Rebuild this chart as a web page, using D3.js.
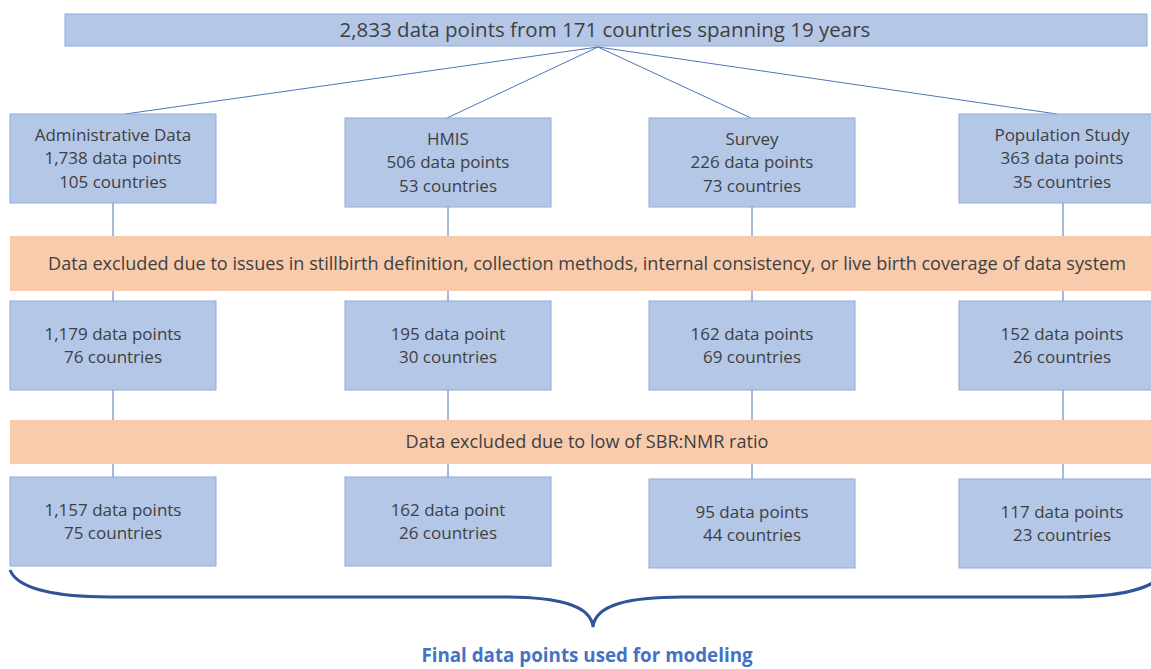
<!DOCTYPE html>
<html lang="en">
<head>
    <meta charset="UTF-8">
    <title>Stillbirth data flow</title>
    <style>
        body { margin: 0; background: #fff; font-family: 'Open Sans', 'Lato', sans-serif; }
        .box { fill: #b4c7e7; stroke: #8faadc; stroke-width: 1px; }
        .band { fill: #f8cbad; }
        .link { stroke: #4f74b8; stroke-width: 1px; fill: none; }
        .label { fill: #404040; font-size: 17px; text-anchor: middle; }
        .brace { fill: none; stroke: #2f5597; stroke-width: 3px; }
        .final { fill: #4472c4; font-size: 18.8px; font-weight: bold; text-anchor: middle; }
    </style>
</head>
<body>
    <svg id="flow"></svg>
    <script src="https://d3js.org/d3.v7.min.js"></script>
    <script>
        // Data
        const title = '2,833 data points from 171 countries spanning 19 years';
        const sources = ['Administrative Data', 'HMIS', 'Survey', 'Population Study'];
        const initialPoints = ['1,738 data points', '506 data points', '226 data points', '363 data points'];
        const initialCountries = ['105 countries', '53 countries', '73 countries', '35 countries'];
        const afterQualityPoints = ['1,179 data points', '195 data point', '162 data points', '152 data points'];
        const afterQualityCountries = ['76 countries', '30 countries', '69 countries', '26 countries'];
        const finalPoints = ['1,157 data points', '162 data point', '95 data points', '117 data points'];
        const finalCountries = ['75 countries', '26 countries', '44 countries', '23 countries'];
        const exclusions = [
            'Data excluded due to issues in stillbirth definition, collection methods, internal consistency, or live birth coverage of data system',
            'Data excluded due to low of SBR:NMR ratio'
        ];
        const footer = 'Final data points used for modeling';

        const width = 1151, height = 669;
        const boxW = 206, boxH = 89;

        const svg = d3.select('#flow')
            .attr('width', width)
            .attr('height', height)
            .style('display', 'block');

        // column layout (boxes are not evenly spaced in the original)
        const colX = d3.scaleOrdinal().domain(sources).range([10, 345, 649, 959]);
        const cx = d => colX(d) + boxW / 2;

        // row tops, slightly staggered per column as in the original
        const rowTop = [
            d3.scaleOrdinal().domain(sources).range([114, 118, 118, 114]),
            d3.scaleOrdinal().domain(sources).range([301, 301, 301, 301]),
            d3.scaleOrdinal().domain(sources).range([477, 477, 479, 479])
        ];

        const rows = [
            sources.map((s, i) => ({ key: s, lines: [s, initialPoints[i], initialCountries[i]] })),
            sources.map((s, i) => ({ key: s, lines: [afterQualityPoints[i], afterQualityCountries[i]] })),
            sources.map((s, i) => ({ key: s, lines: [finalPoints[i], finalCountries[i]] }))
        ];

        // Top box
        const headBox = { x: 65, y: 14, w: 1082, h: 32 };
        svg.append('rect').attr('class', 'box')
            .attr('x', headBox.x).attr('y', headBox.y).attr('width', headBox.w).attr('height', headBox.h);
        svg.append('text').attr('class', 'label')
            .attr('x', headBox.x + headBox.w / 2 - 1).attr('y', headBox.y + headBox.h / 2)
            .attr('dy', '0.35em').style('font-size', '20.5px')
            .text(title);

        // fan-out lines from the top box
        const hub = [598, 47];
        const fanEnd = d3.scaleOrdinal().domain(sources).range([125, 447, 751, 1057]);
        svg.selectAll('.fan')
            .data(sources)
            .enter()
            .append('line')
            .attr('class', 'link')
            .attr('x1', hub[0]).attr('y1', hub[1])
            .attr('x2', d => fanEnd(d))
            .attr('y2', d => rowTop[0](d));

        // vertical connectors (drawn under the bands)
        [[0, 1], [1, 2]].forEach(([a, b]) => {
            svg.selectAll(null)
                .data(sources)
                .enter()
                .append('line')
                .attr('class', 'link')
                .attr('x1', d => d === sources[3] ? cx(d) + 1 : cx(d))
                .attr('x2', d => d === sources[3] ? cx(d) + 1 : cx(d))
                .attr('y1', d => rowTop[a](d) + boxH)
                .attr('y2', d => rowTop[b](d));
        });

        // exclusion bands
        const bands = [
            { y: 236, h: 55, text: exclusions[0] },
            { y: 420, h: 44, text: exclusions[1] }
        ];
        const bandG = svg.selectAll('.bandG')
            .data(bands)
            .enter()
            .append('g');
        bandG.append('rect').attr('class', 'band')
            .attr('x', 10).attr('width', 1155)
            .attr('y', d => d.y).attr('height', d => d.h);
        bandG.append('text').attr('class', 'label')
            .attr('x', 587)
            .attr('y', d => d.y + d.h / 2)
            .attr('dy', '0.35em')
            .style('font-size', '18.1px')
            .text(d => d.text);

        // source boxes
        rows.forEach((row, r) => {
            const g = svg.selectAll(null)
                .data(row)
                .enter()
                .append('g')
                .attr('transform', d => `translate(${colX(d.key)},${rowTop[r](d.key)})`);
            g.append('rect').attr('class', 'box')
                .attr('width', boxW).attr('height', boxH);
            g.each(function (d) {
                const n = d.lines.length;
                const lh = 23.5;
                d3.select(this).selectAll('text')
                    .data(d.lines)
                    .enter()
                    .append('text')
                    .attr('class', 'label')
                    .attr('x', boxW / 2)
                    .attr('y', (t, i) => boxH / 2 + (i - (n - 1) / 2) * lh)
                    .attr('dy', '0.35em')
                    .text(t => t);
            });
        });

        // curly brace under the final row
        const bx0 = 10, bx1 = 1165, tipX = 593, yFlat = 597, yTip = 627;
        const brace = d3.path();
        brace.moveTo(bx0, 570);
        brace.bezierCurveTo(bx0 + 8, 590, 60, yFlat, 110, yFlat);
        brace.lineTo(tipX - 90, yFlat);
        brace.bezierCurveTo(tipX - 35, yFlat, tipX - 2, yFlat + 8, tipX, yTip);
        brace.bezierCurveTo(tipX + 2, yFlat + 8, tipX + 35, yFlat, tipX + 90, yFlat);
        brace.lineTo(bx1 - 100, yFlat);
        brace.bezierCurveTo(bx1 - 50, yFlat, bx1 - 8, 590, bx1, 570);
        svg.append('path').attr('class', 'brace').attr('d', brace.toString());

        svg.append('text').attr('class', 'final')
            .attr('x', 587).attr('y', 655)
            .attr('dy', '0.35em')
            .text(footer);
    </script>
</body>
</html>
